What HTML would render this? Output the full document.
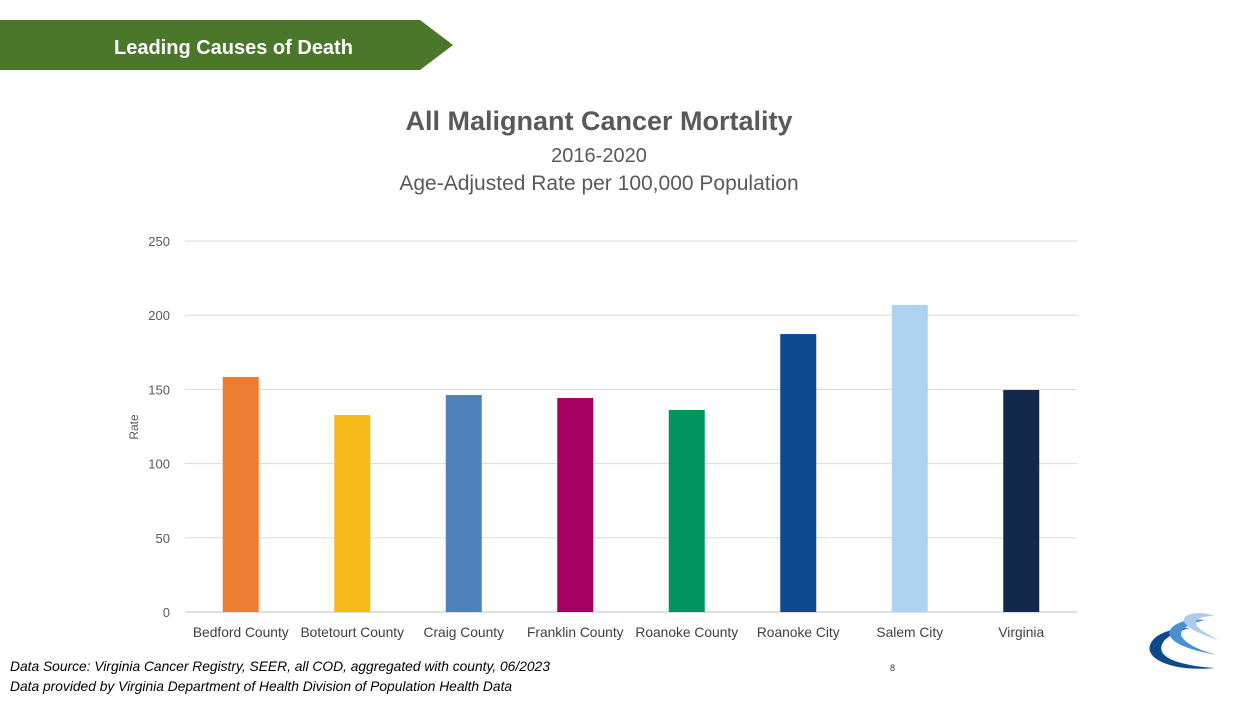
<!DOCTYPE html>
<html><head><meta charset="utf-8"><style>
body{margin:0;width:1247px;height:701px;background:#fff;overflow:hidden;font-family:"Liberation Sans",sans-serif}
</style></head><body>
<svg width="1247" height="701" style="position:absolute;left:0;top:0">
<polygon points="0,20 420,20 453,45 420,70 0,70" fill="#4a7729"/>
<text x="114" y="54" font-size="20" font-weight="bold" fill="#fff">Leading Causes of Death</text>
<text x="599" y="130" text-anchor="middle" font-size="27" font-weight="bold" fill="#595959">All Malignant Cancer Mortality</text>
<text x="599" y="162" text-anchor="middle" font-size="20" fill="#595959">2016-2020</text>
<text x="599" y="190" text-anchor="middle" font-size="21" fill="#595959">Age-Adjusted Rate per 100,000 Population</text>
<text transform="translate(138,427) rotate(-90)" text-anchor="middle" font-size="12" fill="#595959">Rate</text>
<g id="grid"></g><g id="bars"></g><g id="labels"></g>
<text x="10" y="671" font-size="13.8" font-style="italic" fill="#000">Data Source: Virginia Cancer Registry, SEER, all COD, aggregated with county, 06/2023</text>
<text x="10" y="691" font-size="13.8" font-style="italic" fill="#000">Data provided by Virginia Department of Health Division of Population Health Data</text>
<text x="890" y="671" font-size="9" fill="#333">8</text>
<g>
<path d="M1215,668 C1175,672 1145,660 1150,645 C1155,632 1175,628 1190,628 C1170,633 1158,642 1162,652 C1167,662 1195,667 1215,668 Z" fill="#0d4a8a"/>
<path d="M1218,655 C1185,650 1165,640 1170,630 C1175,622 1190,618 1205,620 C1188,624 1178,630 1182,637 C1188,646 1205,652 1218,655 Z" fill="#4b8fd0"/>
<path d="M1218,640 C1195,632 1180,625 1185,617 C1190,612 1205,612 1215,616 C1200,616 1193,620 1197,626 C1202,632 1212,636 1218,640 Z" fill="#a9cdea"/>
</g>
</svg>
<script>
const categories=["Bedford County","Botetourt County","Craig County","Franklin County","Roanoke County","Roanoke City","Salem City","Virginia"];
const values=[158.4,132.7,146.2,144.2,136.1,187.3,206.9,149.6];
const colors=["#ed7d31","#f7b81a","#4f81bd","#a50062","#00945e","#0d4a8f","#aed3f0","#13294b"];
const ticks=[0,50,100,150,200,250];
const ns="http://www.w3.org/2000/svg";
const x0=185,x1=1077,yb=612,yt=241,ymax=250;
const y=v=>yb-(v/ymax)*(yb-yt);
const bw=(x1-x0)/categories.length;
const xc=i=>x0+bw*(i+0.5);
function mk(t,a,p){const e=document.createElementNS(ns,t);for(const k in a)e.setAttribute(k,a[k]);p.appendChild(e);return e;}
const g=document.getElementById('grid'),b=document.getElementById('bars'),l=document.getElementById('labels');
ticks.forEach(t=>{
const ln=mk('line',{x1:x0,x2:x1,y1:y(t),y2:y(t),stroke:t===0?'#bfbfbf':'#d9d9d9','stroke-width':1},g);


const tx=mk('text',{x:170,y:y(t)+5,'text-anchor':'end','font-size':13,fill:'#595959'},g);
tx.textContent=t;


});
categories.forEach((c,i)=>{
const r=mk('rect',{x:xc(i)-18,y:y(values[i]),width:36,height:yb-y(values[i]),fill:colors[i]},b);


const tx=mk('text',{x:xc(i),y:637,'text-anchor':'middle','font-size':13.8,fill:'#404040'},l);
tx.textContent=c;


});
</script>
</body></html>
